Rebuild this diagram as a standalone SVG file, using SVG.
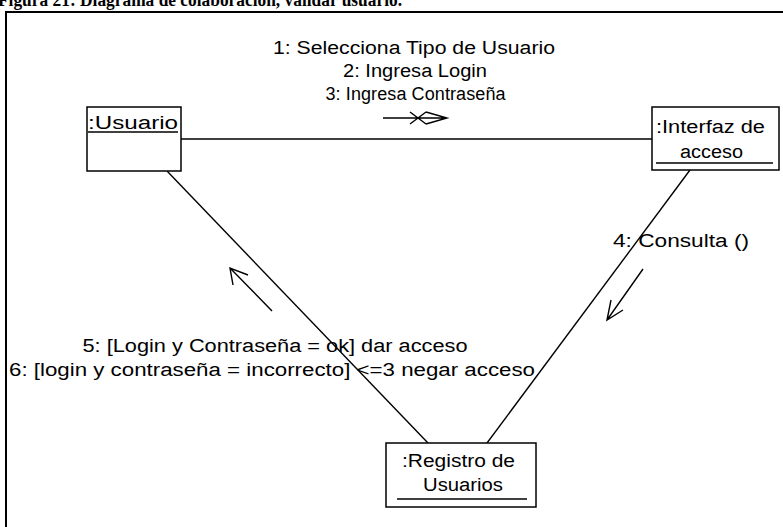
<svg xmlns="http://www.w3.org/2000/svg" width="783" height="527" viewBox="0 0 783 527">
<style>
text{font-family:"Liberation Sans",Arial,sans-serif;font-size:18px;fill:#000}
.title{font-family:"Liberation Serif","Times New Roman",serif;font-weight:bold;font-size:18px}
.box{fill:#fff;stroke:#000;stroke-width:1.5}
.ln{stroke:#000;stroke-width:1.4;fill:none}
.ul{stroke:#000;stroke-width:1.3}
.mid{text-anchor:middle}
</style>
<rect width="783" height="527" fill="#fff"/>
<text class="title" x="-2" y="6" textLength="404" lengthAdjust="spacingAndGlyphs">Figura 21: Diagrama de colaboración, validar usuario.</text>
<path d="M6,540 V12 H790" fill="none" stroke="#000" stroke-width="2"/>
<g id="connectors">
<line class="ln" x1="181" y1="139" x2="652" y2="139"/>
<line class="ln" x1="167" y1="171" x2="428" y2="443"/>
<line class="ln" x1="690" y1="170" x2="487" y2="443"/>
</g>
<g id="messages">
<g id="msg-1-3">
<text class="mid" x="414" y="54" textLength="282" lengthAdjust="spacingAndGlyphs">1: Selecciona Tipo de Usuario</text>
<text class="mid" x="415" y="77" textLength="144" lengthAdjust="spacingAndGlyphs">2: Ingresa Login</text>
<text class="mid" x="415.5" y="100" textLength="180" lengthAdjust="spacing">3: Ingresa Contraseña</text>
<path class="ln" d="M383,118 H447 M426,112 L447,118 L426,124 M410,112 L426,124 M410,124 L426,112"/>
</g>
<g id="msg-4">
<text x="613" y="247" textLength="136" lengthAdjust="spacingAndGlyphs">4: Consulta ()</text>
<path class="ln" d="M643,269 L607,320 M611,300 L607,320 L623,310"/>
</g>
<g id="msg-5-6">
<text class="mid" x="275" y="352" textLength="385" lengthAdjust="spacingAndGlyphs">5: [Login y Contraseña = ok] dar acceso</text>
<text class="mid" x="272" y="376" textLength="526" lengthAdjust="spacingAndGlyphs">6: [login y contraseña = incorrecto] &lt;=3 negar acceso</text>
<path class="ln" d="M272,311 L230,268 M248,275 L230,268 L233,285"/>
</g>
</g>
<g id="usuario">
<rect class="box" x="87" y="107" width="94" height="64"/>
<text x="88" y="129" textLength="90" lengthAdjust="spacingAndGlyphs">:Usuario</text>
<line class="ul" x1="88" y1="132" x2="178" y2="132"/>
</g>
<g id="interfaz">
<rect class="box" x="652" y="107" width="127" height="63"/>
<text x="656" y="133" textLength="109" lengthAdjust="spacingAndGlyphs">:Interfaz de</text>
<text x="680" y="158" textLength="63" lengthAdjust="spacingAndGlyphs">acceso</text>
<line class="ul" x1="656" y1="163" x2="773" y2="163"/>
</g>
<g id="registro">
<rect class="box" x="386" y="443" width="150" height="64"/>
<text x="402" y="467" textLength="113" lengthAdjust="spacingAndGlyphs">:Registro de</text>
<text x="423" y="491" textLength="80" lengthAdjust="spacingAndGlyphs">Usuarios</text>
<line class="ul" x1="397" y1="499" x2="527" y2="499"/>
</g>
</svg>
